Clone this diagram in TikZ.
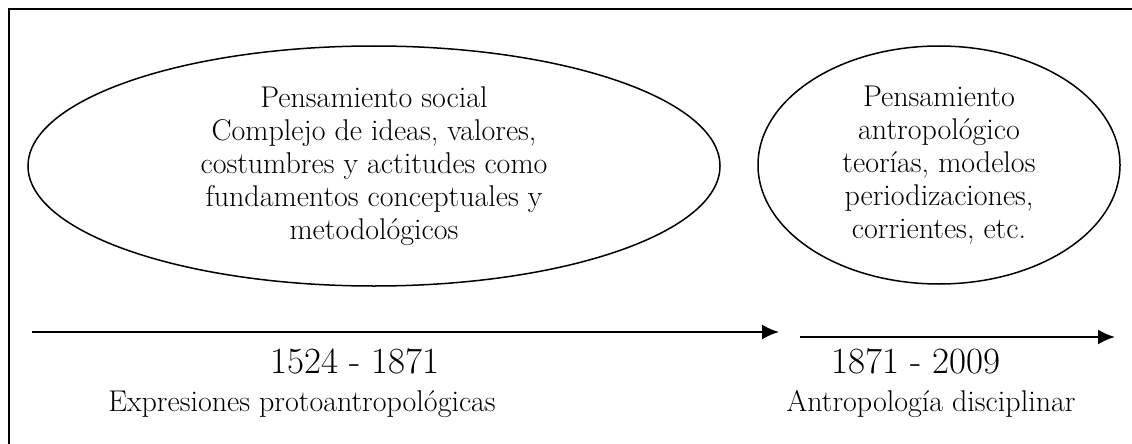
\documentclass[tikz,border=0pt]{standalone}
\usetikzlibrary{shapes.geometric,arrows.meta}
\tikzset{
Bubble/.style={draw=black, ellipse, inner sep=0pt, line width=1.5pt,
        align=center, font=\fontsize{30}{33}\selectfont},
TimeLine/.style={arrows={-Latex[length=17pt,width=15pt]},draw=black,line width=2pt},
Period/.style={anchor=base, font=\fontsize{37}{40}\selectfont},
PeriodName/.style={anchor=base, font=\fontsize{30}{33}\selectfont},
}

\begin{document}
\begin{tikzpicture}[x=1pt,y=-1pt]
	\useasboundingbox (0,0) rectangle (1132,444);
	\draw[line width=2pt] (1132,9) -- (9,9) -- (9,444);

	\node[Bubble, minimum width=692pt, minimum height=240pt] (social) at (374,166)
		{Pensamiento social\\ Complejo de ideas, valores,\\ costumbres y actitudes como\\ fundamentos conceptuales y\\ metodológicos};
	\node[Bubble, minimum width=362pt, minimum height=238pt] (antro) at (939,165)
		{Pensamiento\\ antropológico\\ teorías, modelos\\ periodizaciones,\\ corrientes, etc.};

	\coordinate (L1) at (32,332);
	\coordinate (L2) at (779,332);
	\coordinate (R1) at (800,337);
	\coordinate (R2) at (1115,337);
	\draw[TimeLine] (L1) -- (L2);
	\draw[TimeLine] (R1) -- (R2);

	\node[Period] (proto) at (355,373) {1524 - 1871};
	\node[Period] (disc) at (916,373) {1871 - 2009};
	\node[PeriodName] (protoname) at (302,411) {Expresiones protoantropológicas};
	\node[PeriodName] (discname) at (931,411) {Antropología disciplinar};
\end{tikzpicture}
\end{document}
